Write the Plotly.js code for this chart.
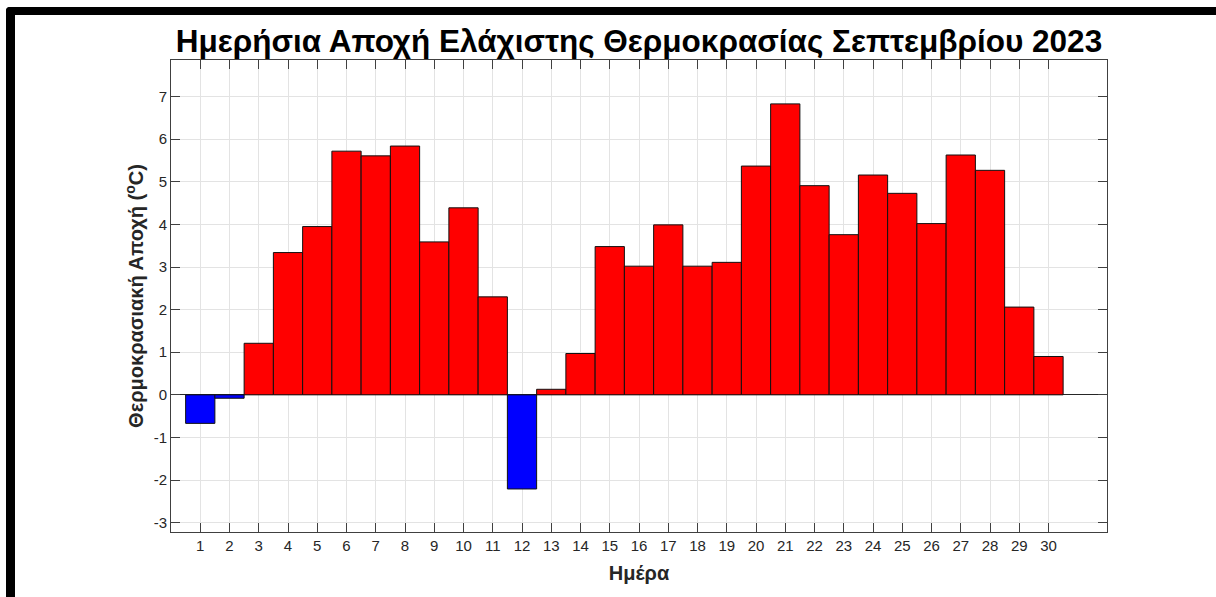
<!DOCTYPE html>
<html>
<head>
<meta charset="utf-8">
<script src="https://cdn.plot.ly/plotly-3.0.1.min.js"></script>
<style>
  html, body { margin: 0; padding: 0; background: #ffffff; }
  #wrap { position: relative; width: 1216px; height: 597px; overflow: hidden; }
  #chart { position: absolute; left: 0; top: 0; width: 1216px; height: 597px; }
  #frame { position: absolute; left: 6px; top: 7px; width: 1220px; height: 586px;
           border-top: 8px solid #000; border-left: 9px solid #000; border-bottom: 2px solid #333;
           border-top-left-radius: 4px; pointer-events: none; box-sizing: content-box; }
</style>
</head>
<body>
<div id="wrap">
  <div id="chart"></div>
  <div id="frame"></div>
</div>
<script>
// Data
const days = [1,2,3,4,5,6,7,8,9,10,11,12,13,14,15,16,17,18,19,20,21,22,23,24,25,26,27,28,29,30];
const anomaly = [-0.67,-0.08,1.21,3.34,3.95,5.72,5.61,5.84,3.59,4.39,2.30,-2.21,0.13,0.97,3.48,3.02,3.99,3.02,3.11,5.37,6.83,4.91,3.76,5.16,4.73,4.02,5.63,5.27,2.06,0.90];
const tickLabels = days.map(String);
const yTicks = [-3,-2,-1,0,1,2,3,4,5,6,7];

const titleText = "Ημερήσια Αποχή Ελάχιστης Θερμοκρασίας Σεπτεμβρίου 2023";
const xTitleText = "Ημέρα";
const yTitleText = "Θερμοκρασιακή Αποχή (<sup>o</sup>C)";

const posColor = "#ff0000";
const negColor = "#0000ff";

const colors = anomaly.map(v => v >= 0 ? posColor : negColor);

const font = "Liberation Sans, Arial, Helvetica, sans-serif";

const trace = {
  type: "bar",
  x: days,
  y: anomaly,
  width: 1,
  marker: { color: colors, line: { color: "#111111", width: 1 } },
  hoverinfo: "x+y"
};

const layout = {
  width: 1216,
  height: 597,
  paper_bgcolor: "#ffffff",
  plot_bgcolor: "#ffffff",
  margin: { l: 171, r: 109, t: 60, b: 65, pad: 0 },
  showlegend: false,
  bargap: 0,
  title: {
    text: "<b>" + titleText + "</b>",
    font: { family: font, size: 31.5, color: "#000000" },
    x: 639 / 1216, xanchor: "center", xref: "container",
    y: 1 - 41 / 597, yanchor: "middle", yref: "container"
  },
  xaxis: {
    range: [0, 32],
    tickmode: "array",
    tickvals: days,
    ticktext: tickLabels,
    ticks: "inside",
    ticklen: 9,
    tickwidth: 1,
    tickcolor: "#404040",
    showline: true,
    linecolor: "#404040",
    linewidth: 1,
    mirror: "ticks",
    showgrid: true,
    gridcolor: "#e3e3e3",
    gridwidth: 1,
    zeroline: false,
    tickfont: { family: font, size: 15, color: "#262626" },
    title: { text: "<b>" + xTitleText + "</b>", font: { family: font, size: 20, color: "#262626" }, standoff: 12 }
  },
  yaxis: {
    range: [-3.22, 7.86],
    tickmode: "array",
    tickvals: yTicks,
    ticktext: yTicks.map(String),
    ticks: "inside",
    ticklen: 9,
    tickwidth: 1,
    tickcolor: "#404040",
    showline: true,
    linecolor: "#404040",
    linewidth: 1,
    mirror: "ticks",
    showgrid: true,
    gridcolor: "#e3e3e3",
    gridwidth: 1,
    zeroline: true,
    zerolinecolor: "#262626",
    zerolinewidth: 1,
    tickfont: { family: font, size: 15, color: "#262626" },
    title: { text: "<b>" + yTitleText + "</b>", font: { family: font, size: 20, color: "#262626" }, standoff: 4 }
  }
};

Plotly.newPlot("chart", [trace], layout, { displayModeBar: false, staticPlot: true });
</script>
</body>
</html>
